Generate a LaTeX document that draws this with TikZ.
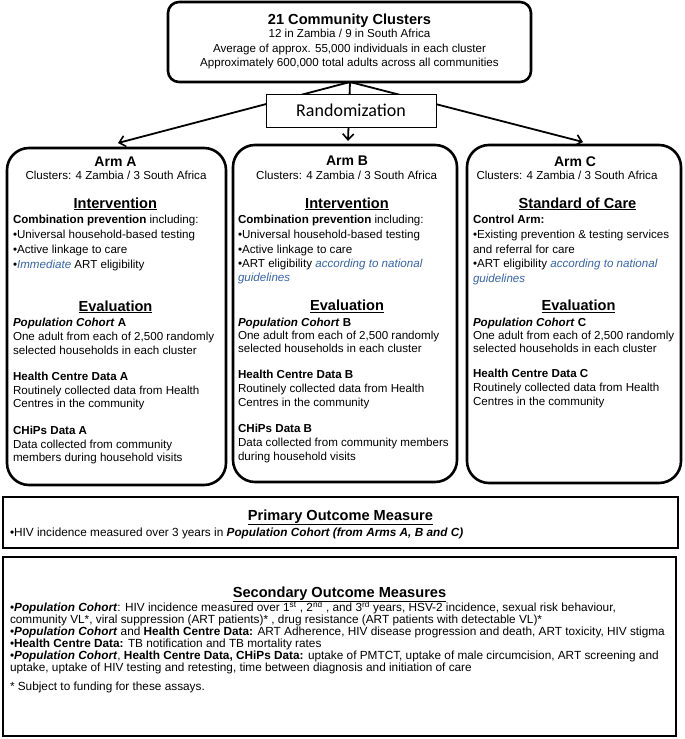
\documentclass[tikz,border=0pt]{standalone}
\usepackage{fontspec}
\setmainfont{Liberation Sans}
\newfontfamily\calib{Carlito}
\usetikzlibrary{arrows.meta}
\definecolor{artblue}{RGB}{55,100,172}
\newcommand\bodyfont{\fontsize{11.6}{14}\selectfont}
\newcommand\outfont{\fontsize{11.8}{14}\selectfont}
\newcommand\headfont{\fontsize{14.6}{17}\selectfont\bfseries}
\newcommand\putline[4]{\node[txt] (#1) at (#2,#3) {#4};}
\newcommand\putout[4]{\node[txt, font=\outfont] (#1) at (#2,#3) {#4};}
\newcommand\putctr[4]{\node[ctxt] (#1) at (#2,#3) {#4};}
\newcommand\puthead[4]{\node[chead] (#1) at (#2,#3) {\underline{#4}};}
\newcommand\bdi[1]{\textbf{\textit{#1}}}
\tikzset{
  txt/.style={inner sep=0pt, outer sep=0pt, anchor=base west, font=\bodyfont},
  ctxt/.style={inner sep=0pt, outer sep=0pt, anchor=base, font=\bodyfont},
  chead/.style={inner sep=0pt, outer sep=0pt, anchor=base, font=\headfont},
  ctitle/.style={inner sep=0pt, outer sep=0pt, anchor=base, font=\fontsize{14}{17}\selectfont\bfseries},
  armbox/.style={draw, line width=2.6pt, rounded corners=22pt},
  topbox/.style={draw, line width=2.6pt, rounded corners=11pt},
  outbox/.style={draw, line width=2.6pt},
  randbox/.style={draw, fill=white, line width=1pt},
  arr/.style={line width=1.8pt, -{Straight Barb[length=6pt,width=11pt,line width=1.6pt]}}
}
\begin{document}
\begin{tikzpicture}[x=1pt,y=-1pt]
\useasboundingbox (0,0) rectangle (685,739);
\fill[white] (0,0) rectangle (685,739);

% top box
\draw[topbox] (168,2) rectangle (531,82);
\coordinate (topS) at (350,82);
\putctr{t1}{349.5}{24}{\headfont 21 Community Clusters}
\putctr{t2}{349.5}{37.5}{12 in Zambia / 9 in South Africa}
\putctr{t3}{349.5}{52}{Average of approx. 55,000 individuals in each cluster}
\putctr{t4}{349.5}{66.5}{Approximately 600,000 total adults across all communities}

% arm boxes
\draw[armbox] (7,148) rectangle (226,485);
\draw[armbox] (233,145) rectangle (457,482);
\draw[armbox] (467,145) rectangle (681,483);
\coordinate (tipA) at (118,143);
\coordinate (tipB) at (348,141);
\coordinate (tipC) at (583,142);

% connectors
\draw[arr] (topS) -- (tipA);
\draw[arr] (topS) -- (tipB);
\draw[arr] (topS) -- (tipC);
\node[randbox, minimum width=170pt, minimum height=33pt, inner sep=0pt, font=\calib\fontsize{18}{20}\selectfont] (rand) at (351,110.5) {Randomization};

% Arm A
\node[ctitle] (aT) at (115.5,166) {Arm A};
\putctr{aCl}{116}{179}{Clusters: 4 Zambia / 3 South Africa}
\puthead{aI}{115.3}{208}{Intervention}
\putline{a1}{13}{223}{\textbf{Combination prevention} including:}
\putline{a2}{13}{238}{•Universal household-based testing}
\putline{a3}{13}{253}{•Active linkage to care}
\putline{a4}{13}{268}{•{\color{artblue}\textit{Immediate}} ART eligibility}
\puthead{aE}{115.5}{311}{Evaluation}
\putline{a5}{13}{326}{\bdi{Population Cohort} \textbf{A}}
\putline{a6}{13}{340}{One adult from each of 2,500 randomly}
\putline{a7}{13}{354}{selected households in each cluster}
\putline{a8}{13}{380}{\textbf{Health Centre Data A}}
\putline{a9}{13}{394}{Routinely collected data from Health}
\putline{a10}{13}{407.5}{Centres in the community}
\putline{a11}{13}{434}{\textbf{CHiPs Data A}}
\putline{a12}{13}{448}{Data collected from community}
\putline{a13}{13}{461.5}{members during household visits}

% Arm B
\node[ctitle] (bT) at (347,165) {Arm B};
\putctr{bCl}{346.7}{179}{Clusters: 4 Zambia / 3 South Africa}
\puthead{bI}{347}{208}{Intervention}
\putline{b1}{238}{223}{\textbf{Combination prevention} including:}
\putline{b2}{238}{238}{•Universal household-based testing}
\putline{b3}{238}{253}{•Active linkage to care}
\putline{b4}{238}{267}{•ART eligibility {\color{artblue}\textit{according to national}}}
\putline{b4b}{238}{281}{{\color{artblue}\textit{guidelines}}}
\puthead{bE}{347}{310.5}{Evaluation}
\putline{b5}{238}{326}{\bdi{Population Cohort} \textbf{B}}
\putline{b6}{238}{339}{One adult from each of 2,500 randomly}
\putline{b7}{238}{352}{selected households in each cluster}
\putline{b8}{238}{378}{\textbf{Health Centre Data B}}
\putline{b9}{238}{392}{Routinely collected data from Health}
\putline{b10}{238}{406}{Centres in the community}
\putline{b11}{238}{432}{\textbf{CHiPs Data B}}
\putline{b12}{238}{446}{Data collected from community members}
\putline{b13}{238}{460}{during household visits}

% Arm C
\node[ctitle] (cT) at (575,166) {Arm C};
\putctr{cCl}{567}{179}{Clusters: 4 Zambia / 3 South Africa}
\puthead{cI}{577.5}{208}{Standard of Care}
\putline{c1}{473}{223}{\textbf{Control Arm:}}
\putline{c2}{473}{238}{•Existing prevention \& testing services}
\putline{c3}{473}{253}{and referral for care}
\putline{c4}{473}{267}{•ART eligibility {\color{artblue}\textit{according to national}}}
\putline{c4b}{473}{282}{{\color{artblue}\textit{guidelines}}}
\puthead{cE}{578.5}{310.5}{Evaluation}
\putline{c5}{473}{326}{\bdi{Population Cohort} \textbf{C}}
\putline{c6}{473}{339}{One adult from each of 2,500 randomly}
\putline{c7}{473}{352}{selected households in each cluster}
\putline{c8}{473}{377.5}{\textbf{Health Centre Data C}}
\putline{c9}{473}{391.5}{Routinely collected data from Health}
\putline{c10}{473}{405}{Centres in the community}

% Primary outcome
\draw[outbox] (3,497) rectangle (678,548);
\puthead{pT}{340.5}{520}{Primary Outcome Measure}
\putout{p1}{10}{536}{•HIV incidence measured over 3 years in \bdi{Population Cohort (from Arms A, B and C)}}

% Secondary outcome
\draw[outbox] (3,557) rectangle (676,736);
\puthead{sT}{339.5}{597}{Secondary Outcome Measures}
\putout{s1}{10}{611.5}{•\bdi{Population Cohort}: HIV incidence measured over 1\textsuperscript{st} , 2\textsuperscript{nd} , and 3\textsuperscript{rd} years, HSV-2 incidence, sexual risk behaviour,}
\putout{s2}{10}{623.5}{community VL*, viral suppression (ART patients)* , drug resistance (ART patients with detectable VL)*}
\putout{s3}{10}{635.5}{•\bdi{Population Cohort} and \textbf{Health Centre Data:} ART Adherence, HIV disease progression and death, ART toxicity, HIV stigma}
\putout{s4}{10}{647.5}{•\textbf{Health Centre Data:} TB notification and TB mortality rates}
\putout{s5}{10}{659.5}{•\bdi{Population Cohort}, \textbf{Health Centre Data, CHiPs Data:} uptake of PMTCT, uptake of male circumcision, ART screening and}
\putout{s6}{10}{671}{uptake, uptake of HIV testing and retesting, time between diagnosis and initiation of care}
\putout{s7}{10}{690.5}{* Subject to funding for these assays.}
\end{tikzpicture}
\end{document}
